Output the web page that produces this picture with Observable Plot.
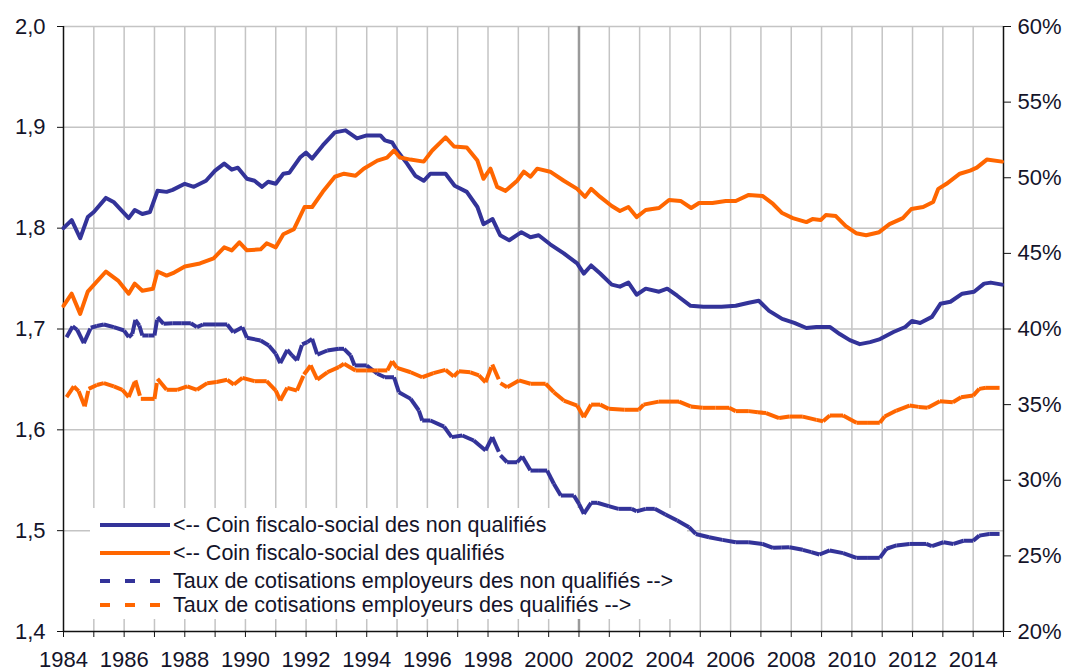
<!DOCTYPE html>
<html><head><meta charset="utf-8">
<script src="https://cdn.jsdelivr.net/npm/d3@7"></script>
<script src="https://cdn.jsdelivr.net/npm/@observablehq/plot@0.6"></script>
<style>
body{margin:0;background:#fff;font-family:"Liberation Sans",Arial,sans-serif;}
#wrap{position:relative;width:1069px;height:672px;overflow:hidden;}
#wrap > svg{position:absolute;left:0;top:0;}
#legend{position:absolute;left:90px;top:508px;width:597px;height:111px;background:#fff;}
.row{position:absolute;left:10px;height:26px;display:flex;align-items:center;font-size:21.5px;color:#14142a;white-space:nowrap;}
.row svg{margin-right:3px;}
</style></head><body><div id="wrap"></div>
<script>
// ---- Data ----
// Coin fiscalo-social des non qualifiés (left axis)
const coinNonQualif = [[1984.0,1.800],[1984.27,1.808],[1984.55,1.790],[1984.8,1.811],[1985.0,1.816],[1985.4,1.830],[1985.65,1.826],[1986.15,1.810],[1986.35,1.818],[1986.6,1.814],[1986.85,1.816],[1987.1,1.837],[1987.4,1.836],[1987.6,1.838],[1988.0,1.844],[1988.3,1.841],[1988.7,1.847],[1989.0,1.857],[1989.3,1.864],[1989.55,1.858],[1989.75,1.860],[1990.05,1.849],[1990.3,1.847],[1990.55,1.841],[1990.75,1.846],[1991.0,1.844],[1991.25,1.854],[1991.45,1.855],[1991.8,1.870],[1992.0,1.875],[1992.2,1.869],[1992.55,1.882],[1992.95,1.895],[1993.3,1.897],[1993.68,1.889],[1994.0,1.892],[1994.45,1.892],[1994.6,1.887],[1994.84,1.885],[1995.0,1.877],[1995.33,1.864],[1995.6,1.852],[1995.88,1.847],[1996.1,1.854],[1996.6,1.854],[1996.9,1.842],[1997.3,1.836],[1997.65,1.821],[1997.85,1.804],[1998.15,1.809],[1998.4,1.793],[1998.7,1.788],[1999.1,1.796],[1999.4,1.791],[1999.67,1.793],[2000.05,1.784],[2000.5,1.775],[2000.94,1.765],[2001.16,1.755],[2001.4,1.763],[2001.7,1.755],[2002.08,1.744],[2002.35,1.742],[2002.63,1.746],[2002.9,1.734],[2003.2,1.740],[2003.64,1.737],[2003.91,1.740],[2004.24,1.733],[2004.68,1.723],[2005.1,1.722],[2005.7,1.722],[2006.17,1.723],[2006.6,1.726],[2006.93,1.728],[2007.27,1.718],[2007.7,1.710],[2008.1,1.706],[2008.5,1.701],[2008.83,1.702],[2009.27,1.702],[2009.6,1.695],[2009.93,1.689],[2010.26,1.685],[2010.6,1.687],[2010.93,1.690],[2011.37,1.697],[2011.76,1.702],[2011.98,1.708],[2012.25,1.706],[2012.64,1.712],[2012.92,1.725],[2013.25,1.727],[2013.64,1.735],[2014.03,1.737],[2014.36,1.745],[2014.58,1.746],[2014.95,1.744]];
// Coin fiscalo-social des qualifiés (left axis)
const coinQualif = [[1984.0,1.723],[1984.27,1.735],[1984.55,1.715],[1984.8,1.737],[1985.4,1.757],[1985.8,1.748],[1986.15,1.735],[1986.35,1.745],[1986.6,1.738],[1986.95,1.740],[1987.1,1.757],[1987.4,1.753],[1987.65,1.756],[1988.0,1.762],[1988.5,1.765],[1988.95,1.770],[1989.3,1.781],[1989.55,1.778],[1989.8,1.786],[1990.05,1.778],[1990.5,1.779],[1990.7,1.785],[1991.0,1.781],[1991.25,1.794],[1991.6,1.799],[1991.95,1.821],[1992.2,1.821],[1992.55,1.836],[1992.95,1.851],[1993.25,1.854],[1993.63,1.852],[1993.9,1.859],[1994.35,1.867],[1994.67,1.870],[1994.9,1.877],[1995.1,1.870],[1995.44,1.868],[1995.88,1.866],[1996.16,1.877],[1996.6,1.890],[1996.88,1.881],[1997.3,1.880],[1997.65,1.867],[1997.85,1.849],[1998.08,1.859],[1998.3,1.841],[1998.58,1.837],[1998.96,1.847],[1999.18,1.856],[1999.4,1.851],[1999.62,1.859],[2000.05,1.856],[2000.5,1.847],[2000.94,1.839],[2001.2,1.831],[2001.4,1.839],[2001.7,1.831],[2002.08,1.822],[2002.35,1.817],[2002.63,1.821],[2002.9,1.811],[2003.2,1.818],[2003.64,1.820],[2003.97,1.828],[2004.35,1.827],[2004.7,1.820],[2004.96,1.825],[2005.4,1.825],[2005.84,1.827],[2006.17,1.827],[2006.6,1.833],[2007.05,1.832],[2007.4,1.824],[2007.7,1.815],[2008.05,1.810],[2008.5,1.806],[2008.7,1.809],[2008.97,1.808],[2009.14,1.813],[2009.47,1.812],[2009.8,1.802],[2010.14,1.795],[2010.47,1.793],[2010.9,1.796],[2011.24,1.804],[2011.68,1.810],[2011.96,1.819],[2012.35,1.821],[2012.68,1.826],[2012.85,1.839],[2013.12,1.844],[2013.56,1.854],[2013.9,1.857],[2014.12,1.860],[2014.45,1.868],[2014.95,1.866]];
// Taux de cotisations employeurs des non qualifiés (right axis, %)
const tauxNonQualif = [[1984.1,39.46],[1984.3,40.17],[1984.45,39.95],[1984.67,39.06],[1984.9,40.08],[1985.1,40.2],[1985.33,40.30],[1985.66,40.12],[1986.0,39.9],[1986.15,39.46],[1986.27,39.68],[1986.37,40.6],[1986.5,40.23],[1986.6,39.57],[1986.8,39.57],[1987.0,39.57],[1987.1,40.78],[1987.3,40.34],[1987.6,40.38],[1987.9,40.38],[1988.2,40.38],[1988.4,40.12],[1988.6,40.30],[1989.0,40.30],[1989.4,40.30],[1989.6,39.79],[1989.9,40.12],[1990.05,39.42],[1990.5,39.24],[1990.77,38.91],[1991.0,38.36],[1991.15,37.74],[1991.38,38.62],[1991.54,38.25],[1991.7,37.92],[1991.87,38.98],[1992.04,39.13],[1992.2,39.35],[1992.37,38.31],[1992.7,38.58],[1993.08,38.69],[1993.25,38.69],[1993.47,38.25],[1993.6,37.59],[1994.0,37.59],[1994.35,37.04],[1994.6,36.81],[1994.9,36.81],[1995.06,35.82],[1995.45,35.38],[1995.72,34.61],[1995.83,33.95],[1996.1,33.95],[1996.55,33.55],[1996.8,32.85],[1997.15,32.96],[1997.53,32.63],[1997.92,31.97],[1998.14,32.85],[1998.41,31.64],[1998.63,31.19],[1998.96,31.19],[1999.13,31.57],[1999.4,30.64],[1999.68,30.64],[1999.95,30.64],[2000.17,29.77],[2000.4,28.99],[2000.83,28.99],[2001.0,28.44],[2001.16,27.78],[2001.4,28.51],[2001.6,28.51],[2001.98,28.29],[2002.3,28.11],[2002.74,28.11],[2002.9,27.95],[2003.2,28.11],[2003.5,28.11],[2003.85,27.74],[2004.24,27.34],[2004.63,26.9],[2004.85,26.45],[2005.29,26.23],[2005.73,26.06],[2006.17,25.90],[2006.6,25.90],[2007.05,25.79],[2007.4,25.53],[2007.67,25.55],[2007.94,25.57],[2008.38,25.40],[2008.66,25.25],[2008.93,25.09],[2009.27,25.36],[2009.71,25.18],[2010.15,24.87],[2010.5,24.87],[2010.92,24.87],[2011.14,25.47],[2011.47,25.69],[2011.9,25.79],[2012.18,25.79],[2012.45,25.79],[2012.64,25.64],[2013.02,25.90],[2013.35,25.79],[2013.68,26.0],[2014.0,26.0],[2014.2,26.34],[2014.53,26.45],[2014.87,26.45]];
// Taux de cotisations employeurs des qualifiés (right axis, %)
const tauxQualif = [[1984.1,35.5],[1984.34,36.2],[1984.5,35.89],[1984.7,34.88],[1984.83,36.04],[1985.1,36.3],[1985.33,36.42],[1985.66,36.2],[1985.94,35.98],[1986.15,35.5],[1986.37,36.6],[1986.55,35.38],[1987.0,35.38],[1987.1,36.71],[1987.4,35.98],[1987.75,35.98],[1988.08,36.2],[1988.4,35.98],[1988.74,36.42],[1989.05,36.5],[1989.4,36.64],[1989.62,36.33],[1989.9,36.77],[1990.3,36.55],[1990.7,36.55],[1991.0,35.93],[1991.15,35.27],[1991.38,36.11],[1991.7,35.93],[1991.93,36.99],[1992.15,37.59],[1992.37,36.66],[1992.7,37.14],[1993.08,37.48],[1993.25,37.70],[1993.63,37.26],[1994.0,37.26],[1994.35,37.26],[1994.68,37.26],[1994.84,37.87],[1995.0,37.43],[1995.45,37.14],[1995.83,36.81],[1996.2,37.08],[1996.6,37.30],[1996.87,36.86],[1997.04,37.21],[1997.42,37.14],[1997.7,36.93],[1997.92,36.48],[1998.14,37.65],[1998.41,36.42],[1998.63,36.15],[1999.02,36.6],[1999.4,36.38],[1999.9,36.38],[2000.17,35.82],[2000.5,35.27],[2000.94,34.94],[2001.16,34.17],[2001.4,35.0],[2001.7,35.0],[2001.98,34.72],[2002.5,34.66],[2002.97,34.66],[2003.13,35.0],[2003.63,35.2],[2003.97,35.2],[2004.3,35.2],[2004.68,34.88],[2005.07,34.79],[2005.5,34.79],[2005.95,34.79],[2006.17,34.57],[2006.6,34.57],[2006.9,34.5],[2007.17,34.44],[2007.6,34.11],[2007.94,34.21],[2008.38,34.21],[2008.83,33.99],[2009.05,33.9],[2009.27,34.28],[2009.71,34.28],[2010.15,33.80],[2010.5,33.80],[2010.92,33.80],[2011.08,34.21],[2011.47,34.61],[2011.9,34.94],[2012.2,34.85],[2012.5,34.79],[2012.9,35.23],[2013.33,35.16],[2013.6,35.49],[2014.0,35.60],[2014.2,36.04],[2014.42,36.11],[2014.87,36.11]];

const years = d3.range(1984, 2016);
const leftTicks = [1.4, 1.5, 1.6, 1.7, 1.8, 1.9, 2.0];
const rightTicks = [20, 25, 30, 35, 40, 45, 50, 55, 60];
const breakYear = [2001];
const seriesNames = [
  "<-- Coin fiscalo-social des non qualifiés",
  "<-- Coin fiscalo-social des qualifiés",
  "Taux de cotisations employeurs des non qualifiés -->",
  "Taux de cotisations employeurs des qualifiés -->"
];
const colors = ["#333399", "#ff6600", "#333399", "#ff6600"];

// right axis (%) mapped onto left scale: 20% <-> 1.4, 60% <-> 2.0
const toLeft = p => 1.4 + (p - 20) * 0.015;
const toPct = v => (v - 1.4) / 0.015 + 20;
// Excel-like dashing restarts at each segment
const segs = arr => arr.slice(1).map((d, i) => ({x1: arr[i][0], y1: toLeft(arr[i][1]), x2: d[0], y2: toLeft(d[1])}));

const frame = {
  width: 1069, height: 672,
  marginLeft: 63, marginRight: 66, marginTop: 26, marginBottom: 41,
  x: {domain: [1984, 2015]},
  y: {domain: [1.4, 2.0]}
};

// bottom layer: grid and axes
const base = Plot.plot({
  ...frame,
  style: {fontFamily: "'Liberation Sans', Arial, sans-serif", fontSize: "22px", color: "#14142a", background: "white", overflow: "visible"},
  marks: [
    Plot.gridX(d3.range(1985, 2015), {stroke: "#c4c4c4", strokeOpacity: 1, strokeWidth: 1.5}),
    Plot.gridY(leftTicks.slice(1), {stroke: "#c4c4c4", strokeOpacity: 1, strokeWidth: 1.5}),
    Plot.ruleX(breakYear, {stroke: "#9a9a9a", strokeWidth: 2.5}),
    Plot.ruleX([1984], {stroke: "#111", strokeWidth: 1.5}),
    Plot.ruleX([2015], {stroke: "#111", strokeWidth: 1.5}),
    Plot.ruleY([1.4], {stroke: "#111", strokeWidth: 1.5}),
    Plot.axisX(years, {anchor: "bottom", tickSize: 6, tickPadding: 14, stroke: "#111",
      tickFormat: d => (d % 2 === 0 && d < 2015) ? String(d) : ""}),
    Plot.axisY(leftTicks, {anchor: "left", tickSize: 6, tickPadding: 12, stroke: "#111",
      tickFormat: d => d.toFixed(1).replace(".", ",")}),
    Plot.axisY(rightTicks.map(toLeft), {anchor: "right", tickSize: 7, tickPadding: 7, stroke: "#111",
      tickFormat: d => Math.round(toPct(d)) + "%"})
  ]
});

// top layer: the four series (drawn over the legend box)
const lines = Plot.plot({
  ...frame,
  x: {...frame.x, axis: null},
  y: {...frame.y, axis: null},
  style: {background: "transparent", overflow: "visible"},
  marks: [
    Plot.line(coinNonQualif, {x: d => d[0], y: d => d[1], stroke: colors[0], strokeWidth: 4, strokeLinejoin: "round"}),
    Plot.line(coinQualif, {x: d => d[0], y: d => d[1], stroke: colors[1], strokeWidth: 4, strokeLinejoin: "round"}),
    Plot.link(segs(tauxNonQualif), {x1: "x1", y1: "y1", x2: "x2", y2: "y2", stroke: colors[2], strokeWidth: 4, strokeDasharray: "16,6"}),
    Plot.link(segs(tauxQualif), {x1: "x1", y1: "y1", x2: "x2", y2: "y2", stroke: colors[3], strokeWidth: 4, strokeDasharray: "16,6"})
  ]
});

const wrap = document.getElementById("wrap");
wrap.appendChild(base);

// Legend (inside the plot area, bottom-left)
const legend = document.createElement("div");
legend.id = "legend";
const rowTops = [4, 32, 60, 84];
seriesNames.forEach((name, i) => {
  const row = document.createElement("div");
  row.className = "row";
  row.style.top = rowTops[i] + "px";
  const dashed = i >= 2;
  row.innerHTML = `<svg width="70" height="10"><line x1="0" x2="70" y1="5" y2="5" stroke="${colors[i]}" stroke-width="4"${dashed ? ' stroke-dasharray="10,15"' : ''}/></svg><span>${name.replace(/</g, "&lt;").replace(/>/g, "&gt;")}</span>`;
  legend.appendChild(row);
});
wrap.appendChild(legend);
wrap.appendChild(lines);
</script>
</body></html>
